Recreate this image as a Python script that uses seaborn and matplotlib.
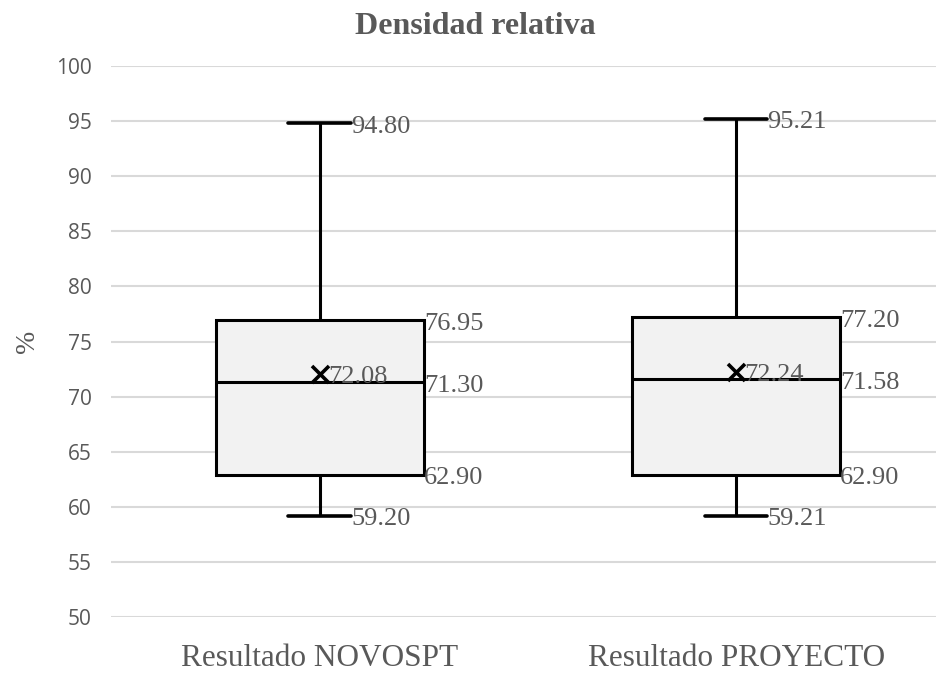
import numpy as np
import pandas as pd
import matplotlib
matplotlib.use("Agg")
import matplotlib.pyplot as plt
import matplotlib.transforms as mtransforms
import seaborn as sns

# Five-number summaries and means per group
groups = ["Resultado NOVOSPT", "Resultado PROYECTO"]
minimum = [59.20, 59.21]
q1 = [62.90, 62.90]
median = [71.30, 71.58]
q3 = [76.95, 77.20]
maximum = [94.80, 95.21]
means = [72.08, 72.24]
y_ticks = list(range(50, 101, 5))

# Five points per group reproduce the summary exactly (linear quartiles, whiskers to extremes)
rows = []
for g, a, b, c, d, e in zip(groups, minimum, q1, median, q3, maximum):
    for v in (a, b, c, d, e):
        rows.append({"grupo": g, "valor": v})
df = pd.DataFrame(rows)

sns.set_theme(style="white")
plt.rcParams["font.family"] = ["Liberation Serif", "DejaVu Serif"]

GRAY = "#595959"
fig = plt.figure(figsize=(9.36, 6.73), dpi=100)
ax = fig.add_axes([0.119, 0.083, 0.89, 0.819])

sns.boxplot(
    data=df, x="grupo", y="valor", order=groups, whis=np.inf, width=0.5,
    color="#f2f2f2", saturation=1, linecolor="black", linewidth=2.2,
    showcaps=True, ax=ax,
    boxprops=dict(facecolor="#f2f2f2", edgecolor="black", zorder=3),
    medianprops=dict(color="black", linewidth=2.2, zorder=4),
    whiskerprops=dict(color="black", linewidth=2.2, zorder=3),
    capprops=dict(color="black", linewidth=2.6, zorder=3),
    capwidths=0.15,
)

xs = np.arange(len(groups))
ax.scatter(xs, means, marker="x", s=150, color="black", linewidths=2.6, zorder=6)

# value labels, nudged slightly down so the digits sit centred on their values
shift = ax.transData + mtransforms.ScaledTranslation(0, -2.5 / 72, fig.dpi_scale_trans)
lab = dict(color=GRAY, fontsize=19, va="center", ha="left", zorder=7, transform=shift)
for i in range(len(groups)):
    ax.text(i + 0.075, maximum[i], f"{maximum[i]:.2f}", **lab)
    ax.text(i + 0.075, minimum[i], f"{minimum[i]:.2f}", **lab)
    ax.text(i + 0.25, q3[i], f"{q3[i]:.2f}", **lab)
    ax.text(i + 0.25, median[i], f"{median[i]:.2f}", **lab)
    ax.text(i + 0.25, q1[i], f"{q1[i]:.2f}", **lab)
    ax.text(i + 0.02, means[i], f"{means[i]:.2f}", **lab)

ax.set_xlim(-0.5, 1.5)
ax.set_ylim(50, 100)
ax.set_yticks(y_ticks)
ax.set_yticklabels([str(t) for t in y_ticks], family=["Open Sans", "DejaVu Sans"],
                   fontsize=15, color=GRAY)
ax.tick_params(axis="y", length=0, pad=14)
ax.tick_params(axis="x", length=0, pad=19, labelsize=22.5, labelcolor=GRAY)
ax.grid(axis="y", color="#d9d9d9", linewidth=1.5, zorder=0)
ax.set_axisbelow(True)
for s in ax.spines.values():
    s.set_visible(False)

ax.set_xlabel("")
ax.set_ylabel("%", fontsize=20, color=GRAY, labelpad=12)
fig.text(0.508, 0.96, "Densidad relativa", ha="center", va="center",
         fontsize=23, fontweight="bold", color=GRAY)

fig.savefig("out.png", dpi=100)
